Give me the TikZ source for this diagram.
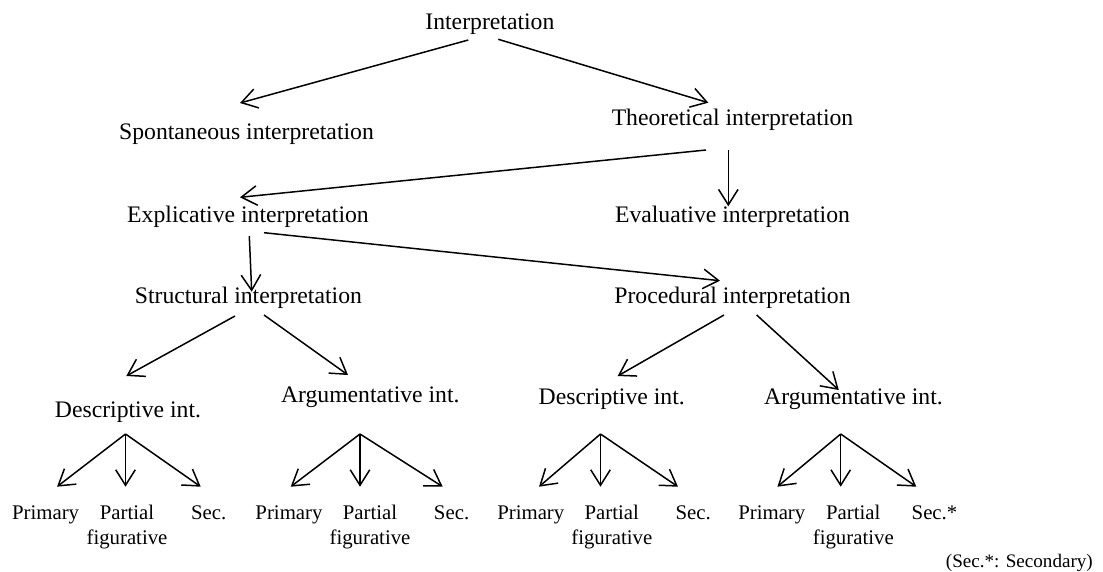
\documentclass[tikz,border=0pt]{standalone}
\usepackage{fontspec}
\setmainfont{Liberation Serif}
\usetikzlibrary{arrows.meta,calc}
\tikzset{
  lbl/.style={inner sep=0pt, anchor=base, font=\fontsize{23.7}{28}\selectfont},
  leaf/.style={inner sep=0pt, anchor=base, font=\fontsize{20.8}{25}\selectfont},
  arr/.style={line width=1.5pt, -{Straight Barb[length=15.5pt,width=19.5pt]}},
  fan/.style={line width=1.5pt, -{Straight Barb[length=15.5pt,width=19.5pt]}}
}
\newcommand{\twoline}[2]{\begin{tabular}[t]{@{}c@{}}#1\\#2\end{tabular}}
\begin{document}
\begin{tikzpicture}[x=1pt,y=-1pt]
\useasboundingbox (0,0) rectangle (1103,571);
% main nodes
\node[lbl] (interp) at (489.9,29.3) {Interpretation};
\node[lbl] (spont)  at (246.5,139.3) {Spontaneous interpretation};
\node[lbl] (theo)   at (732.5,125) {Theoretical interpretation};
\node[lbl] (expl)   at (248,222.3) {Explicative interpretation};
\node[lbl] (eval)   at (732.5,222.3) {Evaluative interpretation};
\node[lbl] (struct) at (248.4,303.3) {Structural interpretation};
\node[lbl] (proc)   at (732.5,303.3) {Procedural interpretation};
\node[lbl] (descL)  at (128,417) {Descriptive int.};
\node[lbl] (argL)   at (370.3,402.7) {Argumentative int.};
\node[lbl] (descR)  at (611.7,404) {Descriptive int.};
\node[lbl] (argR)   at (853.5,404) {Argumentative int.};
% leaves
\node[leaf] (p1) at (45.6,519.3) {Primary};
\node[leaf] (f1) at (127,519.3) {\twoline{Partial}{figurative}};
\node[leaf] (s1) at (208.7,519.3) {Sec.};
\node[leaf] (p2) at (289,519.3) {Primary};
\node[leaf] (f2) at (370,519.3) {\twoline{Partial}{figurative}};
\node[leaf] (s2) at (451.6,519.3) {Sec.};
\node[leaf] (p3) at (530.8,519.3) {Primary};
\node[leaf] (f3) at (611.8,519.3) {\twoline{Partial}{figurative}};
\node[leaf] (s3) at (693.2,519.3) {Sec.};
\node[leaf] (p4) at (771.8,519.3) {Primary};
\node[leaf] (f4) at (853.3,519.3) {\twoline{Partial}{figurative}};
\node[leaf] (s4) at (934.5,519.3) {Sec.*};
\node[inner sep=0pt, anchor=base east, font=\fontsize{19.1}{23}\selectfont] (note) at (1093,567) {(Sec.*: Secondary)};
% connectors
\draw[arr] ($(interp.base)+(-21.6,10.7)$) -- ($(spont.base)+(-6.5,-36.3)$);
\draw[arr] ($(interp.base)+(8.4,10)$) -- ($(theo.base)+(-24.2,-22.3)$);
\draw[arr] ($(theo.base)+(-26.5,25)$) -- ($(expl.base)+(-8,-25)$);
\draw[arr] ($(theo.base)+(-4.2,25)$) -- ($(eval.base)+(-4.2,-16)$);
\draw[arr] ($(expl.base)+(1.3,13.7)$) -- ($(struct.base)+(3.3,-11.6)$);
\draw[arr] ($(expl.base)+(16,10.4)$) -- ($(proc.base)+(-12.5,-22.6)$);
\draw[arr] ($(struct.base)+(-13.4,12.7)$) -- ($(descL.base)+(-1.7,-41)$);
\draw[arr] ($(struct.base)+(15.6,11.7)$) -- ($(argL.base)+(-22.3,-27.7)$);
\draw[arr] ($(proc.base)+(-8.5,11.7)$) -- ($(descR.base)+(6,-28)$);
\draw[arr] ($(proc.base)+(24.2,11.7)$) -- ($(argR.base)+(-14.7,-14)$);
% fans
\coordinate (aL) at ($(descL.base)+(-2.5,17)$);
\draw[fan] (aL) -- ($(p1.base)+(11.4,-32.6)$);
\draw[fan] (aL) -- ($(f1.base)+(-1.5,-32.6)$);
\draw[fan] (aL) -- ($(s1.base)+(-8,-32.6)$);
\coordinate (bL) at ($(argL.base)+(-10.3,31.3)$);
\draw[fan] (bL) -- ($(p2.base)+(1.7,-32.6)$);
\draw[fan] (bL) -- ($(f2.base)+(-10,-32.6)$);
\draw[fan] (bL) -- ($(s2.base)+(-8.9,-32.6)$);
\coordinate (aR) at ($(descR.base)+(-11.2,30)$);
\draw[fan] (aR) -- ($(p3.base)+(8.2,-32.6)$);
\draw[fan] (aR) -- ($(f3.base)+(-11.3,-32.6)$);
\draw[fan] (aR) -- ($(s3.base)+(-15.2,-32.6)$);
\coordinate (bR) at ($(argR.base)+(-12.8,30)$);
\draw[fan] (bR) -- ($(p4.base)+(5.6,-32.6)$);
\draw[fan] (bR) -- ($(f4.base)+(-12.6,-32.6)$);
\draw[fan] (bR) -- ($(s4.base)+(-18.2,-32.6)$);
\end{tikzpicture}
\end{document}
